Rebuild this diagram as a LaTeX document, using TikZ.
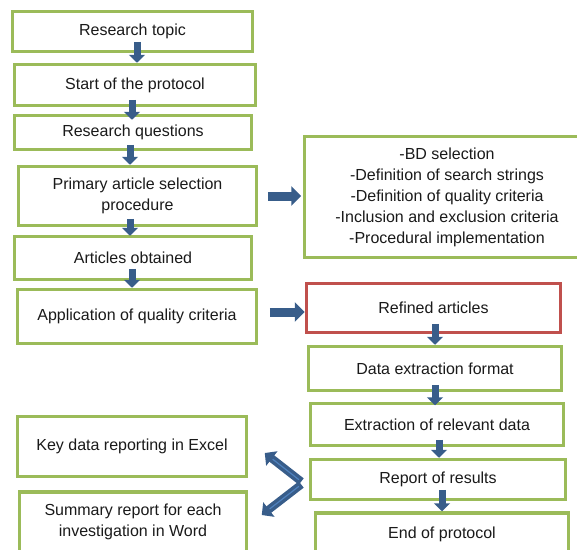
\documentclass[tikz,border=0pt]{standalone}
\usepackage{fontspec}
\setmainfont{Liberation Sans}
\usetikzlibrary{arrows.meta}
\definecolor{boxgreen}{RGB}{155,187,89}
\definecolor{boxred}{RGB}{192,80,77}
\definecolor{arrowblue}{RGB}{56,93,138}
\definecolor{arrowlight}{RGB}{79,129,189}
\definecolor{textgray}{RGB}{26,26,26}

\begin{document}
\begin{tikzpicture}[x=1pt,y=-1pt,
  box/.style={draw=boxgreen,line width=3.5pt,fill=white,align=center,inner sep=0pt,
    text=textgray,font=\fontsize{16}{21}\selectfont},
  redbox/.style={box,draw=boxred},
  dnarrow/.style={arrowblue,line width=7pt,-{Triangle[width=16pt,length=8pt]}},
  rtarrow/.style={arrowblue,line width=9pt,-{Triangle[width=19pt,length=10pt]}},
  fork/.style={arrowblue,line width=8pt,-{Triangle[width=18pt,length=9pt]},
    postaction={draw=arrowlight,line width=1.2pt,-,shorten >=10pt,shorten <=3pt}}]
\clip (0,0) rectangle (577,549);
% left column
\node[box,minimum width=240pt,minimum height=40pt] (rt) at (132.5,31.5) {Research topic};
\node[box,minimum width=241pt,minimum height=41pt] (sp) at (135,85) {Start of the protocol};
\node[box,minimum width=237pt,minimum height=34pt] (rq) at (133,132.5) {Research questions};
\node[box,minimum width=238pt,minimum height=59pt] (pa) at (137.5,196) {Primary article selection\\procedure};
\node[box,minimum width=237pt,minimum height=43pt] (ao) at (133,258) {Articles obtained};
\node[box,minimum width=239pt,minimum height=54pt] (aq) at (137,316.5) {Application of quality criteria};
\node[box,minimum width=229pt,minimum height=60pt] (kd) at (132,446.5) {Key data reporting in Excel};
\node[box,minimum width=227pt,minimum height=60pt] (sr) at (133,522) {Summary report for each\\investigation in Word};
% right column
\node[box,minimum width=285pt,minimum height=121pt] (ls) at (447,197) {-BD selection\\-Definition of search strings\\-Definition of quality criteria\\-Inclusion and exclusion criteria\\-Procedural implementation};
\node[redbox,minimum width=254pt,minimum height=49pt] (ra) at (433.5,308) {Refined articles};
\node[box,minimum width=253pt,minimum height=44pt] (de) at (435,368.5) {Data extraction format};
\node[box,minimum width=253pt,minimum height=42pt] (er) at (437,424.5) {Extraction of relevant data};
\node[box,minimum width=255pt,minimum height=40pt] (rr) at (438,479.5) {Report of results};
\node[box,minimum width=253pt,minimum height=42pt] (ep) at (442,534) {End of protocol};
% down arrows
\draw[dnarrow] ([xshift=4.5pt,yshift=11.5pt]rt.south) coordinate (a1) -- (a1 |- sp.north);
\draw[dnarrow,shorten >=-6pt] ([xshift=-3pt,yshift=7.5pt]sp.south) coordinate (a2) -- (a2 |- rq.north);
\draw[dnarrow] ([xshift=-3pt,yshift=6.5pt]rq.south) coordinate (a3) -- (a3 |- pa.north);
\draw[dnarrow,shorten >=-1pt] ([xshift=-7.5pt,yshift=8.5pt]pa.south) coordinate (a4) -- (a4 |- ao.north);
\draw[dnarrow] ([xshift=-1pt,yshift=12.5pt]ao.south) coordinate (a5) -- (a5 |- aq.north);
\draw[dnarrow] ([xshift=1.5pt,yshift=10.5pt]ra.south) coordinate (a6) -- (a6 |- de.north);
\draw[dnarrow,shorten >=-3.5pt] ([yshift=7.5pt]de.south) coordinate (a7) -- (a7 |- er.north);
\draw[dnarrow] ([xshift=2pt,yshift=7.5pt]er.south) coordinate (a8) -- (a8 |- rr.north);
\draw[dnarrow] ([xshift=4pt,yshift=11.5pt]rr.south) coordinate (a9) -- (a9 |- ep.north);
% right arrows
\draw[rtarrow,shorten >=1.5pt] ([xshift=9.5pt]pa.east) coordinate (r1) -- (r1 -| ls.west);
\draw[rtarrow] ([xshift=11.5pt,yshift=4.5pt]aq.east) coordinate (r2) -- (r2 -| ra.west);
% fork to the reports
\draw[fork] ([xshift=-7.5pt,yshift=-2pt]rr.west) -- ([xshift=16.5pt,yshift=-6.5pt]kd.east);
\draw[fork] ([xshift=-7.5pt,yshift=-5pt]rr.west) -- ([xshift=13.5pt,yshift=7pt]sr.east);
\end{tikzpicture}
\end{document}
